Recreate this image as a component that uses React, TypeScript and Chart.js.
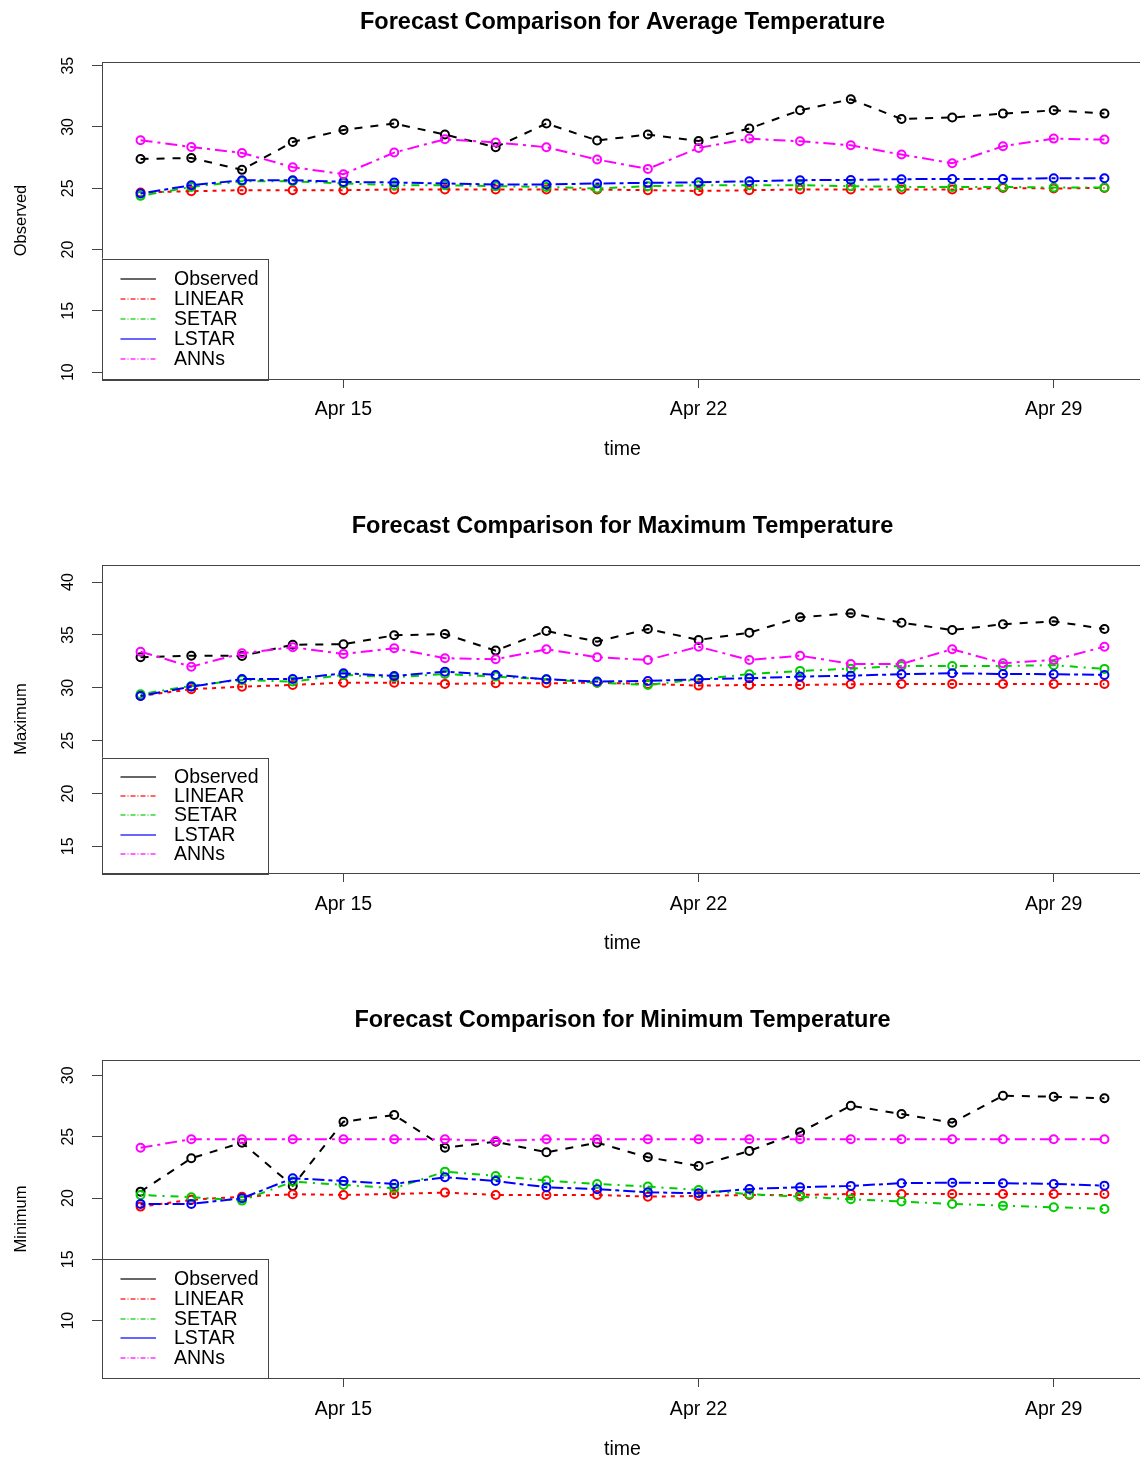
import React, { useEffect, useRef } from 'react';
import { Chart, registerables } from 'chart.js';

Chart.register(...registerables);

const FONT = '"Liberation Sans", Arial, Helvetica, sans-serif';
Chart.defaults.font.family = FONT;
Chart.defaults.color = '#000';

// ---------------- data ----------------
const days = [11, 12, 13, 14, 15, 16, 17, 18, 19, 20, 21, 22, 23, 24, 25, 26, 27, 28, 29, 30];
const xTickDays = [15, 22, 29];
const monthName = 'Apr';
const seriesNames = ['Observed', 'LINEAR', 'SETAR', 'LSTAR', 'ANNs'];

const avgObserved = [27.39, 27.47, 26.5, 28.78, 29.76, 30.28, 29.38, 28.35, 30.28, 28.9, 29.38, 28.86, 29.87, 31.36, 32.26, 30.65, 30.77, 31.09, 31.36, 31.09];
const avgLinear = [24.65, 24.76, 24.84, 24.84, 24.84, 24.9, 24.9, 24.9, 24.9, 24.9, 24.84, 24.78, 24.84, 24.9, 24.9, 24.9, 24.9, 25.03, 24.98, 25.03];
const avgSetar = [24.38, 25.11, 25.57, 25.57, 25.39, 25.25, 25.25, 25.17, 25.11, 24.98, 25.17, 25.25, 25.25, 25.25, 25.17, 25.11, 25.11, 25.11, 25.06, 25.06];
const avgLstar = [24.57, 25.25, 25.66, 25.66, 25.52, 25.47, 25.39, 25.31, 25.31, 25.39, 25.44, 25.49, 25.57, 25.66, 25.68, 25.74, 25.76, 25.76, 25.82, 25.82];
const avgAnns = [28.92, 28.37, 27.88, 26.72, 26.15, 27.91, 29.0, 28.73, 28.35, 27.34, 26.58, 28.29, 29.05, 28.83, 28.51, 27.75, 27.04, 28.43, 29.05, 28.97];

const maxObserved = [32.89, 33.04, 33.02, 34.08, 34.12, 34.97, 35.09, 33.52, 35.38, 34.37, 35.57, 34.53, 35.22, 36.67, 37.05, 36.16, 35.47, 36.01, 36.29, 35.57];
const maxLinear = [29.23, 29.87, 30.11, 30.27, 30.49, 30.49, 30.37, 30.43, 30.43, 30.49, 30.37, 30.21, 30.27, 30.27, 30.34, 30.37, 30.37, 30.37, 30.37, 30.37];
const maxSetar = [29.4, 30.18, 30.75, 30.59, 31.22, 31.0, 31.31, 31.06, 30.81, 30.49, 30.27, 30.81, 31.29, 31.6, 31.81, 32.07, 32.07, 32.07, 32.14, 31.79];
const maxLstar = [29.23, 30.11, 30.84, 30.84, 31.38, 31.12, 31.53, 31.22, 30.81, 30.59, 30.65, 30.81, 30.91, 31.06, 31.15, 31.29, 31.38, 31.31, 31.29, 31.22];
const maxAnns = [33.42, 32.0, 33.27, 33.84, 33.2, 33.74, 32.8, 32.7, 33.65, 32.89, 32.64, 33.89, 32.64, 33.04, 32.26, 32.26, 33.65, 32.33, 32.64, 33.89];

const minObserved = [20.52, 23.24, 24.51, 20.99, 26.22, 26.77, 24.1, 24.59, 23.73, 24.51, 23.32, 22.61, 23.84, 25.36, 27.52, 26.85, 26.14, 28.34, 28.26, 28.13];
const minLinear = [19.3, 19.85, 20.11, 20.31, 20.25, 20.33, 20.44, 20.25, 20.25, 20.25, 20.11, 20.17, 20.25, 20.25, 20.33, 20.33, 20.33, 20.33, 20.33, 20.33];
const minSetar = [20.25, 20.07, 19.79, 21.34, 21.07, 20.8, 22.15, 21.8, 21.42, 21.15, 20.93, 20.66, 20.31, 20.11, 19.9, 19.71, 19.52, 19.38, 19.25, 19.11];
const minLstar = [19.52, 19.52, 19.98, 21.61, 21.39, 21.15, 21.69, 21.39, 20.88, 20.72, 20.47, 20.39, 20.74, 20.88, 20.99, 21.21, 21.25, 21.21, 21.15, 21.01];
const minAnns = [24.1, 24.79, 24.79, 24.79, 24.79, 24.79, 24.79, 24.65, 24.79, 24.79, 24.79, 24.79, 24.79, 24.79, 24.79, 24.79, 24.79, 24.79, 24.79, 24.79];

const titles = [
  'Forecast Comparison for Average Temperature',
  'Forecast Comparison for Maximum Temperature',
  'Forecast Comparison for Minimum Temperature',
];
const yAxisLabels = ['Observed', 'Maximum', 'Minimum'];
const xAxisLabel = 'time';
const yTicksAvg = [10, 15, 20, 25, 30, 35];
const yTicksMax = [15, 20, 25, 30, 35, 40];
const yTicksMin = [10, 15, 20, 25, 30];

// ---------------- styles / layout ----------------
const COLORS = ['#000000', '#FF0000', '#00CD00', '#0000FF', '#FF00FF'];
const LINE_DASH = [[8, 8], [4, 5], [2, 6, 8, 6], [4, 4, 12, 4], [12, 5, 3, 5]];
const LEGEND_DASH = [[], [5, 2, 1, 2], [5, 2, 1, 2], [], [5, 2, 1, 2]];

const CANVAS_W = 1150;
const BOX_LEFT = 102;
const BOX_RIGHT = 1143;
const X_AXIS_H = 95;
const X_MIN = 10.24;
const X_MAX = 30.76;
const LEGEND_RIGHT = 268;
const TEXT_SHIFT = 2; // visual centre vs. 'middle' baseline

const TITLE_SIZE = 23.5;
const TICK_SIZE = 19.5;
const YTICK_SIZE = 16;
const YLABEL_SIZE = 16.5;
const LEGEND_SIZE = 19.5;

const panels = [
  {
    title: titles[0], yLabel: yAxisLabels[0], series: [avgObserved, avgLinear, avgSetar, avgLstar, avgAnns],
    yTicks: yTicksAvg, yMin: 9.44, yMax: 35.3,
    canvasTop: 0, boxTop: 62, boxBottom: 379, titleY: 21, tickY: 408, timeY: 448, legendTop: 258.5,
  },
  {
    title: titles[1], yLabel: yAxisLabels[1], series: [maxObserved, maxLinear, maxSetar, maxLstar, maxAnns],
    yTicks: yTicksMax, yMin: 12.48, yMax: 41.62,
    canvasTop: 490, boxTop: 565, boxBottom: 873, titleY: 525, tickY: 903, timeY: 942, legendTop: 757.5,
  },
  {
    title: titles[2], yLabel: yAxisLabels[2], series: [minObserved, minLinear, minSetar, minLstar, minAnns],
    yTicks: yTicksMin, yMin: 5.33, yMax: 31.25,
    canvasTop: 984, boxTop: 1060, boxBottom: 1378, titleY: 1019, tickY: 1408, timeY: 1448, legendTop: 1259,
  },
];

type PanelCfg = typeof panels[number];

function makeFramePlugin(cfg: PanelCfg) {
  return {
    id: 'frameLegend',
    afterDraw(chart: any) {
      const { ctx, chartArea: a } = chart;
      ctx.save();
      ctx.strokeStyle = '#444';
      ctx.lineWidth = 1;
      ctx.setLineDash([]);
      const l = Math.round(a.left) + 0.5;
      const t = Math.round(a.top) + 0.5;
      ctx.strokeRect(l, t, Math.round(a.right - a.left), Math.round(a.bottom - a.top));

      // legend box inside the plot, bottom-left
      const lt = cfg.legendTop - cfg.canvasTop;
      const bottom = a.bottom;
      ctx.fillStyle = '#fff';
      ctx.fillRect(l, lt, LEGEND_RIGHT - l, bottom - lt);
      ctx.strokeStyle = '#444';
      ctx.strokeRect(l, Math.round(lt) + 0.5, Math.round(LEGEND_RIGHT - l), Math.round(bottom - lt));
      const step = (bottom - lt) / 6;
      seriesNames.forEach((name, i) => {
        const y = Math.round(lt + step * (i + 1));
        ctx.save();
        ctx.strokeStyle = COLORS[i];
        ctx.globalAlpha = 0.6;
        ctx.lineWidth = 2;
        ctx.setLineDash(LEGEND_DASH[i]);
        ctx.beginPath();
        ctx.moveTo(120.5, y);
        ctx.lineTo(156, y);
        ctx.stroke();
        ctx.restore();
        ctx.fillStyle = '#000';
        ctx.font = `${LEGEND_SIZE}px ${FONT}`;
        ctx.textAlign = 'left';
        ctx.textBaseline = 'middle';
        ctx.fillText(name, 174, y + 1);
      });
      ctx.restore();
    },
  };
}

function Panel({ cfg }: { cfg: PanelCfg }) {
  const ref = useRef<HTMLCanvasElement | null>(null);
  const height = cfg.boxBottom - cfg.canvasTop + X_AXIS_H;

  useEffect(() => {
    if (!ref.current) return;
    const titleLH = TITLE_SIZE * 1.2;
    const titlePadTop = cfg.titleY + TEXT_SHIFT - cfg.canvasTop - titleLH / 2;
    const titlePadBottom = cfg.boxTop - cfg.canvasTop - titlePadTop - titleLH;
    const tickLH = TICK_SIZE * 1.2;
    const xTickPad = cfg.tickY + TEXT_SHIFT - cfg.boxBottom - 9 - tickLH / 2;
    const xTitlePadBottom = cfg.boxBottom + X_AXIS_H - (cfg.timeY + TEXT_SHIFT) - tickLH / 2;

    const chart = new Chart(ref.current, {
      type: 'line',
      data: {
        datasets: cfg.series.map((vals, i) => ({
          label: seriesNames[i],
          data: days.map((d, j) => ({ x: d, y: vals[j] })),
          borderColor: COLORS[i],
          borderWidth: 2,
          borderDash: LINE_DASH[i],
          pointRadius: 4,
          pointBorderWidth: 2,
          pointBorderColor: COLORS[i],
          pointBackgroundColor: 'rgba(0,0,0,0)',
          tension: 0,
          fill: false,
          order: 5 - i,
        })),
      },
      options: {
        responsive: false,
        animation: false,
        events: [],
        layout: { padding: { left: 0, right: CANVAS_W - BOX_RIGHT, top: 0, bottom: 0 } },
        plugins: {
          legend: { display: false },
          tooltip: { enabled: false },
          title: {
            display: true,
            text: cfg.title,
            fullSize: false,
            color: '#000',
            font: { size: TITLE_SIZE, weight: 'bold', family: FONT },
            padding: { top: titlePadTop, bottom: titlePadBottom },
          },
        },
        scales: {
          x: {
            type: 'linear',
            min: X_MIN,
            max: X_MAX,
            afterBuildTicks: (s: any) => { s.ticks = xTickDays.map((v) => ({ value: v })); },
            afterFit: (s: any) => { s.height = X_AXIS_H; },
            ticks: {
              autoSkip: false,
              minRotation: 0,
              maxRotation: 0,
              padding: xTickPad,
              color: '#000',
              font: { size: TICK_SIZE, family: FONT },
              callback: (v: any) => `${monthName} ${v}`,
            },
            grid: { drawOnChartArea: false, drawTicks: true, tickLength: 9, tickColor: '#444', tickWidth: 1 },
            border: { display: false },
            title: {
              display: true,
              text: xAxisLabel,
              color: '#000',
              font: { size: TICK_SIZE, family: FONT },
              padding: { top: 0, bottom: xTitlePadBottom },
            },
          },
          y: {
            type: 'linear',
            min: cfg.yMin,
            max: cfg.yMax,
            afterBuildTicks: (s: any) => { s.ticks = cfg.yTicks.map((v) => ({ value: v })); },
            afterFit: (s: any) => { s.width = BOX_LEFT; },
            ticks: {
              autoSkip: false,
              minRotation: 90,
              maxRotation: 90,
              crossAlign: 'center',
              padding: 14.5,
              color: '#000',
              font: { size: YTICK_SIZE, family: FONT },
              callback: (v: any) => String(v),
            },
            grid: { drawOnChartArea: false, drawTicks: true, tickLength: 10, tickColor: '#444', tickWidth: 1 },
            border: { display: false },
            title: {
              display: true,
              text: cfg.yLabel,
              color: '#000',
              font: { size: YLABEL_SIZE, family: FONT },
              padding: { top: 11.8, bottom: 0 },
            },
          },
        },
      } as any,
      plugins: [makeFramePlugin(cfg)],
    });
    return () => chart.destroy();
  }, [cfg]);

  return (
    <canvas
      ref={ref}
      width={CANVAS_W}
      height={height}
      style={{ position: 'absolute', left: 0, top: cfg.canvasTop, width: CANVAS_W, height }}
    />
  );
}

export default function App() {
  return (
    <div
      style={{
        position: 'absolute',
        left: 0,
        top: 0,
        width: 1140,
        height: 1458,
        overflow: 'hidden',
        background: '#fff',
      }}
    >
      {panels.map((p, i) => (
        <Panel key={i} cfg={p} />
      ))}
    </div>
  );
}
